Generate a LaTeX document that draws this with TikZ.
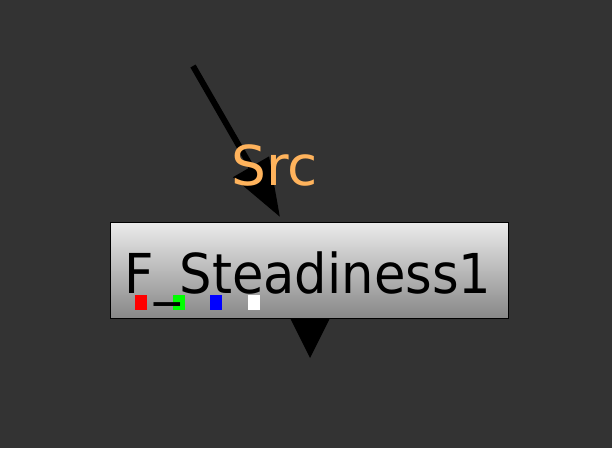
\documentclass[tikz,border=0pt]{standalone}
\usepackage{fontspec}
\setmainfont{DejaVu Sans}
\newfontfamily\namefont[FakeStretch=0.93]{DejaVu Sans}
\usetikzlibrary{arrows.meta}
\definecolor{bgcol}{HTML}{333333}
\definecolor{srcorange}{HTML}{FFB35C}
\definecolor{boxtop}{HTML}{EBEBEB}
\definecolor{boxbot}{HTML}{878787}
\tikzset{
  opbox/.style={draw=black, line width=1pt, top color=boxtop, bottom color=boxbot,
    minimum width=398pt, minimum height=96pt, inner sep=0pt, anchor=north west},
  opname/.style={anchor=base, inner sep=0pt, font=\namefont\fontsize{55}{60}\selectfont},
  srclbl/.style={anchor=base, inner sep=0pt, text=srcorange, font=\fontsize{55}{60}\selectfont},
  srcedge/.style={line width=6pt, -{Triangle[length=58pt,width=40pt]}},
  port/.style={minimum width=12pt, minimum height=15pt, inner sep=0pt, anchor=north west}
}
\begin{document}
\begin{tikzpicture}[x=1pt,y=-1pt]
\fill[bgcol] (0,0) rectangle (612,448);
\useasboundingbox (0,0) rectangle (612,448);
\coordinate (srcpt) at (193,66);
\coordinate (in) at (280,217);
\draw[srcedge] (srcpt) -- (in);
\node[opbox] (steady) at (110,222) {};
\foreach \c [count=\i from 0] in {red,green,blue,white}
  \node[port, fill=\c] (p\i) at (135+37.5*\i,295) {};
\node[opname] (name) at (308,293) {F\_Steadiness1};
\fill[black] (290,318) -- (330,318) -- (310,358) -- cycle;
\node[srclbl] (srclabel) at (274.5,185) {Src};
\end{tikzpicture}
\end{document}
